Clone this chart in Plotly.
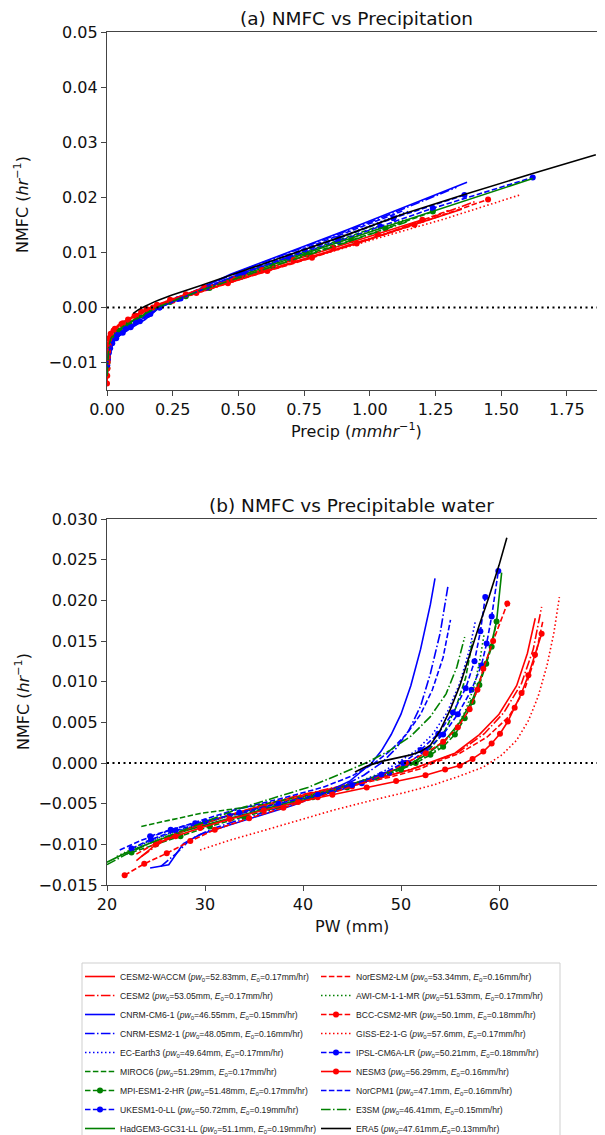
import plotly.graph_objects as go

# ---------------- data ----------------
MODELS = ["CESM2-WACCM", "CESM2", "CNRM-CM6-1", "CNRM-ESM2-1", "EC-Earth3", "MIROC6",
          "MPI-ESM1-2-HR", "UKESM1-0-LL", "HadGEM3-GC31-LL", "NorESM2-LM", "AWI-CM-1-1-MR",
          "BCC-CSM2-MR", "GISS-E2-1-G", "IPSL-CM6A-LR", "NESM3", "NorCPM1", "E3SM", "ERA5"]
PW0 = [52.83, 53.05, 46.55, 48.05, 49.64, 51.29, 51.48, 50.72, 51.1, 53.34, 51.53,
       50.1, 57.6, 50.21, 56.29, 47.1, 46.41, 47.61]
E0 = [0.17, 0.17, 0.15, 0.16, 0.17, 0.17, 0.17, 0.19, 0.19, 0.16, 0.17,
      0.18, 0.17, 0.18, 0.16, 0.16, 0.15, 0.13]

CESM2_WACCM_NMFC = [-0.0120, -0.0100, -0.0082, -0.0068, -0.0055, -0.0042, -0.0030, -0.0018, -0.0008, 0.0000, 0.0012, 0.0035, 0.0060, 0.0095, 0.0135, 0.0178]
CESM2_WACCM_PW = [23.0, 25.0, 28.0, 31.5, 35.0, 39.0, 43.5, 48.0, 51.0, 52.8, 55.5, 58.0, 60.0, 61.8, 62.9, 63.7]
CESM2_WACCM_PR = [0.001, 0.002, 0.004, 0.006, 0.009, 0.018, 0.05, 0.10, 0.145, 0.175, 0.25, 0.40, 0.56, 0.80, 1.07, 1.35]

CESM2_NMFC = [-0.0115, -0.0098, -0.0080, -0.0066, -0.0053, -0.0040, -0.0028, -0.0016, -0.0006, 0.0000, 0.0013, 0.0036, 0.0062, 0.0098, 0.0140, 0.0192]
CESM2_PW = [23.5, 25.5, 28.5, 32.0, 35.5, 39.5, 44.0, 48.5, 51.5, 53.0, 55.8, 58.5, 60.5, 62.3, 63.5, 64.35]
CESM2_PR = [0.001, 0.002, 0.004, 0.006, 0.010, 0.02, 0.055, 0.10, 0.15, 0.175, 0.26, 0.41, 0.57, 0.82, 1.10, 1.40]

CNRM_CM6_1_NMFC = [-0.0129, -0.0125, -0.0099, -0.0088, -0.0078, -0.0065, -0.0052, -0.0038, -0.0022, 0.0000, 0.0015, 0.0035, 0.0060, 0.0095, 0.0140, 0.0195, 0.0227]
CNRM_CM6_1_PW = [24.4, 26.3, 27.8, 29.5, 32.0, 35.5, 39.0, 42.0, 44.8, 47.0, 48.0, 49.0, 50.0, 51.0, 52.0, 53.0, 53.47]
CNRM_CM6_1_PR = [0.0, 0.001, 0.003, 0.005, 0.009, 0.02, 0.045, 0.09, 0.145, 0.2, 0.27, 0.36, 0.47, 0.66, 0.91, 1.2, 1.37]

CNRM_ESM2_1_NMFC = [-0.0127, -0.0112, -0.0094, -0.0082, -0.0070, -0.0057, -0.0044, -0.0030, -0.0015, 0.0000, 0.0018, 0.0040, 0.0070, 0.0110, 0.0160, 0.0218]
CNRM_ESM2_1_PW = [25.5, 27.0, 28.5, 30.5, 33.5, 37.0, 40.5, 43.8, 46.2, 48.0, 49.5, 50.8, 52.0, 53.0, 54.0, 54.8]
CNRM_ESM2_1_PR = [0.0, 0.002, 0.004, 0.007, 0.014, 0.03, 0.065, 0.11, 0.16, 0.2, 0.28, 0.38, 0.53, 0.75, 1.03, 1.33]

EC_EARTH3_NMFC = [-0.0112, -0.0098, -0.0084, -0.0072, -0.0060, -0.0048, -0.0036, -0.0024, -0.0012, 0.0000, 0.0015, 0.0035, 0.0062, 0.0098, 0.0140, 0.0175]
EC_EARTH3_PW = [22.0, 24.0, 27.0, 30.5, 34.0, 38.0, 42.0, 45.5, 48.0, 49.6, 51.5, 53.2, 54.7, 56.0, 57.0, 57.6]
EC_EARTH3_PR = [0.001, 0.003, 0.006, 0.011, 0.022, 0.045, 0.08, 0.12, 0.165, 0.2, 0.27, 0.37, 0.52, 0.72, 0.96, 1.15]

MIROC6_NMFC = [-0.0078, -0.0070, -0.0062, -0.0054, -0.0047, -0.0041, -0.0032, -0.0022, -0.0010, 0.0000, 0.0018, 0.0040, 0.0068, 0.0105, 0.0150]
MIROC6_PW = [23.5, 26.5, 29.5, 34.5, 37.5, 40.0, 43.5, 46.5, 49.5, 51.3, 53.0, 54.5, 55.6, 56.6, 57.3]
MIROC6_PR = [0.006, 0.01, 0.018, 0.03, 0.045, 0.06, 0.085, 0.12, 0.16, 0.19, 0.27, 0.40, 0.55, 0.78, 1.05]

MPI_ESM1_2_HR_NMFC = [-0.0110, -0.0100, -0.0090, -0.0078, -0.0066, -0.0054, -0.0042, -0.0030, -0.0018, -0.0008, 0.0000, 0.0010, 0.0020, 0.0035, 0.0055, 0.0075, 0.0096, 0.0122, 0.0143, 0.0174]
MPI_ESM1_2_HR_PW = [22.5, 25.0, 27.5, 30.5, 34.0, 37.5, 41.0, 44.5, 47.5, 50.0, 51.5, 53.0, 54.3, 55.5, 56.5, 57.3, 58.0, 58.7, 59.25, 59.75]
MPI_ESM1_2_HR_PR = [0.001, 0.002, 0.004, 0.007, 0.012, 0.022, 0.045, 0.08, 0.115, 0.155, 0.185, 0.24, 0.30, 0.39, 0.51, 0.63, 0.76, 0.93, 1.06, 1.24]

UKESM1_0_LL_NMFC = [-0.0090, -0.0082, -0.0074, -0.0065, -0.0056, -0.0046, -0.0036, -0.0025, -0.0012, 0.0000, 0.0015, 0.0035, 0.0060, 0.0090, 0.0120, 0.0147, 0.0180, 0.0236]
UKESM1_0_LL_PW = [24.4, 26.5, 29.0, 32.5, 36.0, 39.5, 43.0, 46.0, 48.8, 50.7, 52.5, 54.3, 55.8, 57.2, 58.2, 58.74, 59.25, 59.93]
UKESM1_0_LL_PR = [0.004, 0.007, 0.012, 0.02, 0.035, 0.06, 0.09, 0.125, 0.165, 0.2, 0.27, 0.37, 0.5, 0.69, 0.88, 1.04, 1.24, 1.62]

HADGEM3_GC31_LL_NMFC = [-0.0122, -0.0110, -0.0098, -0.0085, -0.0073, -0.0060, -0.0047, -0.0034, -0.0020, -0.0008, 0.0000, 0.0012, 0.0028, 0.0050, 0.0078, 0.0110, 0.0140, 0.0174, 0.0234]
HADGEM3_GC31_LL_PW = [20.0, 22.0, 24.5, 27.5, 31.0, 35.0, 39.0, 43.0, 46.5, 49.5, 51.1, 52.8, 54.5, 56.0, 57.3, 58.3, 59.1, 59.75, 60.27]
HADGEM3_GC31_LL_PR = [0.0, 0.001, 0.002, 0.004, 0.008, 0.016, 0.035, 0.07, 0.115, 0.16, 0.19, 0.25, 0.33, 0.46, 0.63, 0.83, 1.02, 1.24, 1.62]

NORESM2_LM_NMFC = [-0.0112, -0.0095, -0.0080, -0.0066, -0.0053, -0.0041, -0.0029, -0.0017, -0.0007, 0.0000, 0.0012, 0.0032, 0.0057, 0.0090, 0.0130, 0.0176]
NORESM2_LM_PW = [23.0, 25.5, 28.5, 32.0, 36.0, 40.0, 44.5, 49.0, 52.0, 53.3, 56.0, 58.8, 61.0, 62.6, 63.7, 64.5]
NORESM2_LM_PR = [0.001, 0.002, 0.004, 0.006, 0.010, 0.02, 0.055, 0.10, 0.14, 0.175, 0.25, 0.38, 0.55, 0.78, 1.04, 1.30]

AWI_CM_1_1_MR_NMFC = [-0.0115, -0.0100, -0.0086, -0.0073, -0.0060, -0.0048, -0.0036, -0.0024, -0.0012, 0.0000, 0.0015, 0.0035, 0.0062, 0.0095, 0.0130, 0.0160]
AWI_CM_1_1_MR_PW = [21.0, 23.5, 26.5, 30.0, 34.0, 38.0, 42.0, 45.5, 49.0, 51.5, 53.5, 55.2, 56.5, 57.5, 58.1, 58.5]
AWI_CM_1_1_MR_PR = [0.001, 0.002, 0.004, 0.008, 0.015, 0.03, 0.065, 0.105, 0.15, 0.19, 0.27, 0.38, 0.53, 0.73, 0.95, 1.14]

BCC_CSM2_MR_NMFC = [-0.0138, -0.0124, -0.0111, -0.0096, -0.0082, -0.0068, -0.0055, -0.0042, -0.0029, -0.0015, 0.0000, 0.0012, 0.0026, 0.0044, 0.0066, 0.0090, 0.0116, 0.0150, 0.0196]
BCC_CSM2_MR_PW = [21.8, 23.8, 26.1, 28.5, 31.0, 34.5, 38.0, 41.5, 45.0, 48.0, 50.5, 52.5, 54.3, 55.8, 57.0, 57.8, 58.4, 59.4, 60.85]
BCC_CSM2_MR_PR = [0.0, 0.001, 0.002, 0.003, 0.004, 0.006, 0.01, 0.025, 0.06, 0.11, 0.175, 0.25, 0.34, 0.46, 0.61, 0.78, 0.95, 1.17, 1.45]

GISS_E2_1_G_NMFC = [-0.0107, -0.0095, -0.0083, -0.0071, -0.0058, -0.0046, -0.0036, -0.0027, -0.0016, -0.0005, 0.0010, 0.0028, 0.0052, 0.0082, 0.0120, 0.0160, 0.0204]
GISS_E2_1_G_PW = [29.5, 32.5, 36.0, 39.5, 43.1, 47.0, 50.5, 53.3, 56.0, 58.4, 60.3, 61.8, 63.0, 64.0, 64.9, 65.6, 66.16]
GISS_E2_1_G_PR = [0.001, 0.002, 0.004, 0.006, 0.010, 0.02, 0.045, 0.075, 0.11, 0.15, 0.22, 0.33, 0.50, 0.72, 0.99, 1.28, 1.57]

IPSL_CM6A_LR_NMFC = [-0.0105, -0.0094, -0.0083, -0.0072, -0.0061, -0.0050, -0.0039, -0.0027, -0.0014, 0.0000, 0.0016, 0.0036, 0.0062, 0.0092, 0.0125, 0.0162, 0.0204]
IPSL_CM6A_LR_PW = [22.5, 24.5, 27.0, 30.0, 33.5, 37.5, 41.5, 45.0, 48.0, 50.2, 52.0, 53.8, 55.3, 56.6, 57.5, 58.1, 58.6]
IPSL_CM6A_LR_PR = [0.001, 0.003, 0.006, 0.011, 0.02, 0.038, 0.07, 0.11, 0.155, 0.2, 0.28, 0.38, 0.52, 0.69, 0.88, 1.09, 1.36]

NESM3_NMFC = [-0.0100, -0.0090, -0.0080, -0.0069, -0.0058, -0.0048, -0.0039, -0.0030, -0.0022, -0.0015, -0.0008, -0.0003, 0.0005, 0.0014, 0.0024, 0.0036, 0.0051, 0.0068, 0.0086, 0.0108, 0.0133, 0.0159]
NESM3_PW = [25.0, 27.0, 29.5, 32.5, 36.0, 39.5, 43.0, 46.5, 49.5, 52.5, 54.5, 56.0, 57.3, 58.4, 59.25, 60.1, 60.9, 61.6, 62.3, 63.0, 63.67, 64.35]
NESM3_PR = [0.002, 0.003, 0.004, 0.006, 0.009, 0.014, 0.03, 0.055, 0.08, 0.105, 0.13, 0.15, 0.19, 0.24, 0.30, 0.37, 0.48, 0.59, 0.71, 0.86, 1.03, 1.20]

NORCPM1_NMFC = [-0.0107, -0.0095, -0.0084, -0.0071, -0.0058, -0.0043, -0.0030, -0.0016, 0.0000, 0.0016, 0.0036, 0.0060, 0.0090, 0.0130, 0.0176]
NORCPM1_PW = [21.3, 23.5, 26.1, 29.5, 32.9, 38.0, 42.0, 45.0, 47.3, 49.0, 50.6, 52.0, 53.2, 54.3, 55.05]
NORCPM1_PR = [0.001, 0.003, 0.006, 0.012, 0.025, 0.065, 0.105, 0.15, 0.2, 0.28, 0.38, 0.5, 0.66, 0.88, 1.13]

E3SM_NMFC = [-0.0125, -0.0112, -0.0098, -0.0084, -0.0070, -0.0056, -0.0043, -0.0030, -0.0015, 0.0000, 0.0015, 0.0033, 0.0057, 0.0085, 0.0118, 0.0155]
E3SM_PW = [20.0, 22.0, 24.5, 27.5, 30.5, 33.5, 37.0, 40.5, 43.5, 46.4, 48.8, 51.0, 53.0, 54.6, 55.7, 56.5]
E3SM_PR = [0.0, 0.001, 0.002, 0.004, 0.007, 0.015, 0.035, 0.075, 0.13, 0.19, 0.27, 0.37, 0.52, 0.70, 0.91, 1.14]

ERA5_NMFC = [-0.0011, -0.0004, 0.0002, 0.0006, 0.0010, 0.0014, 0.0022, 0.0040, 0.0065, 0.0095, 0.0133, 0.0170, 0.0205, 0.0243, 0.0277]
ERA5_PW = [45.3, 46.5, 48.0, 49.5, 51.0, 52.0, 53.0, 54.0, 55.0, 56.0, 57.0, 58.0, 59.0, 60.0, 60.8]
ERA5_PR = [0.10, 0.12, 0.145, 0.16, 0.18, 0.20, 0.245, 0.36, 0.51, 0.69, 0.92, 1.13, 1.36, 1.62, 1.86]

NMFC = [CESM2_WACCM_NMFC, CESM2_NMFC, CNRM_CM6_1_NMFC, CNRM_ESM2_1_NMFC, EC_EARTH3_NMFC, MIROC6_NMFC,
        MPI_ESM1_2_HR_NMFC, UKESM1_0_LL_NMFC, HADGEM3_GC31_LL_NMFC, NORESM2_LM_NMFC, AWI_CM_1_1_MR_NMFC,
        BCC_CSM2_MR_NMFC, GISS_E2_1_G_NMFC, IPSL_CM6A_LR_NMFC, NESM3_NMFC, NORCPM1_NMFC, E3SM_NMFC, ERA5_NMFC]
PW = [CESM2_WACCM_PW, CESM2_PW, CNRM_CM6_1_PW, CNRM_ESM2_1_PW, EC_EARTH3_PW, MIROC6_PW,
      MPI_ESM1_2_HR_PW, UKESM1_0_LL_PW, HADGEM3_GC31_LL_PW, NORESM2_LM_PW, AWI_CM_1_1_MR_PW,
      BCC_CSM2_MR_PW, GISS_E2_1_G_PW, IPSL_CM6A_LR_PW, NESM3_PW, NORCPM1_PW, E3SM_PW, ERA5_PW]
PRECIP = [CESM2_WACCM_PR, CESM2_PR, CNRM_CM6_1_PR, CNRM_ESM2_1_PR, EC_EARTH3_PR, MIROC6_PR,
          MPI_ESM1_2_HR_PR, UKESM1_0_LL_PR, HADGEM3_GC31_LL_PR, NORESM2_LM_PR, AWI_CM_1_1_MR_PR,
          BCC_CSM2_MR_PR, GISS_E2_1_G_PR, IPSL_CM6A_LR_PR, NESM3_PR, NORCPM1_PR, E3SM_PR, ERA5_PR]

# ---------------- styles ----------------
RED, BLUE, GREEN, BLACK = "#ff0000", "#0000ff", "#008000", "#000000"
SOLID = "solid"
DASHED = "5.5px,2.4px"
DOTTED = "1.5px,2.5px"
DASHDOT = "9.6px,2.4px,1.5px,2.4px"
STYLES = [
    (RED, SOLID, False), (RED, DASHDOT, False), (BLUE, SOLID, False), (BLUE, DASHDOT, False),
    (BLUE, DOTTED, False), (GREEN, DASHED, False), (GREEN, DASHED, True), (BLUE, DASHED, True),
    (GREEN, SOLID, False), (RED, DASHED, False), (GREEN, DOTTED, False), (RED, DASHED, True),
    (RED, DOTTED, False), (BLUE, DASHED, True), (RED, SOLID, True), (BLUE, DASHED, False),
    (GREEN, DASHDOT, False), (BLACK, SOLID, False),
]

# page body has an 8px margin; the figure fills the rest of the 605x1135 window
OFF = 8
W, H = 605 - OFF, 1135 - OFF
def fx(px):
    return (px - OFF) / W
def fy(py):
    return 1 - (py - OFF) / H

fig = go.Figure()
for i, name in enumerate(MODELS):
    color, dash, mk = STYLES[i]
    sep = "," if name == "ERA5" else ", "
    label = (f"{name} (<i>pw</i><sub>0</sub>={PW0[i]}mm{sep}"
             f"<i>E</i><sub>0</sub>={E0[i]}mm/hr)")
    mode = "lines+markers" if mk else "lines"
    common = dict(mode=mode, line=dict(color=color, dash=dash, width=1.6),
                  marker=dict(size=6, color=color), legendgroup=name)
    fig.add_trace(go.Scatter(x=PRECIP[i], y=NMFC[i], xaxis="x", yaxis="y",
                             showlegend=False, **common))
    fig.add_trace(go.Scatter(x=PW[i], y=NMFC[i], xaxis="x2", yaxis="y2", name=label,
                             legend="legend" if i < 9 else "legend2",
                             showlegend=True, **common))

AX = dict(showline=True, linecolor="#444", linewidth=1.3, ticks="outside", ticklen=5,
          tickcolor="#444", showgrid=False, zeroline=False, automargin=False,
          tickfont=dict(family="DejaVu Sans", size=16, color="#111"))

LEG = dict(xanchor="left", yanchor="top", y=fy(962), orientation="v",
           traceorder="normal", borderwidth=0, bgcolor="rgba(0,0,0,0)",
           font=dict(family="Liberation Sans, Arial", size=8.6, color="#222"),
           tracegroupgap=0, itemwidth=30)

XA_END = (605 - 107) / 262.8 * 1.0  # panel (a) is cut at the right edge of the picture

fig.update_layout(
    width=W, height=H, margin=dict(l=0, r=0, t=0, b=0, autoexpand=False),
    paper_bgcolor="white", plot_bgcolor="white",
    xaxis=dict(domain=[fx(107), 1.0], range=[0, XA_END], dtick=0.25, tick0=0,
               tickformat=".2f", mirror=True, anchor="y", **AX),
    yaxis=dict(domain=[fy(390), fy(32)], range=[-0.015, 0.05], dtick=0.01, tick0=0,
               tickformat=".2f", anchor="x", **AX),
    xaxis2=dict(domain=[fx(107), fx(597)], range=[20, 70], dtick=10, tick0=20,
                mirror=True, anchor="y2", **AX),
    yaxis2=dict(domain=[fy(885), fy(519)], range=[-0.015, 0.030], dtick=0.005, tick0=0,
                tickformat=".3f", mirror=True, anchor="x2", **AX),
    legend=dict(x=fx(80), **LEG),
    legend2=dict(x=fx(316), **LEG),
    showlegend=True,
)

# legend frame
fig.add_shape(type="rect", xref="paper", yref="paper", x0=fx(82), x1=fx(560),
              y0=fy(1140), y1=fy(963), line=dict(color="#cfcfcf", width=1), layer="below")

# zero reference lines
for xref, yref, x0, x1 in [("x", "y", 0, XA_END), ("x2", "y2", 20, 70)]:
    fig.add_shape(type="line", xref=xref, yref=yref, x0=x0, x1=x1, y0=0, y1=0,
                  line=dict(color="black", width=2, dash="2px,3.5px"), layer="above")

TF = dict(family="DejaVu Sans", color="#111")
ann = [
    ("(a) NMFC vs Precipitation", 356, 19, 0, 18.5),
    ("(b) NMFC vs Precipitable water", 351, 505, 0, 18.5),
    ("Precip (<i>mmhr</i><sup>−1</sup>)", 356, 431, 0, 16),
    ("PW (mm)", 352, 926, 0, 16),
    ("NMFC (<i>hr</i><sup>−1</sup>)", 22, 205, -90, 16),
    ("NMFC (<i>hr</i><sup>−1</sup>)", 22, 702, -90, 16),
]
for text, x, y, ang, size in ann:
    fig.add_annotation(text=text, x=fx(x), y=fy(y), xref="paper", yref="paper",
                       showarrow=False, textangle=ang, font=dict(size=size, **TF),
                       xanchor="center", yanchor="middle")

fig.write_html("out.html")
